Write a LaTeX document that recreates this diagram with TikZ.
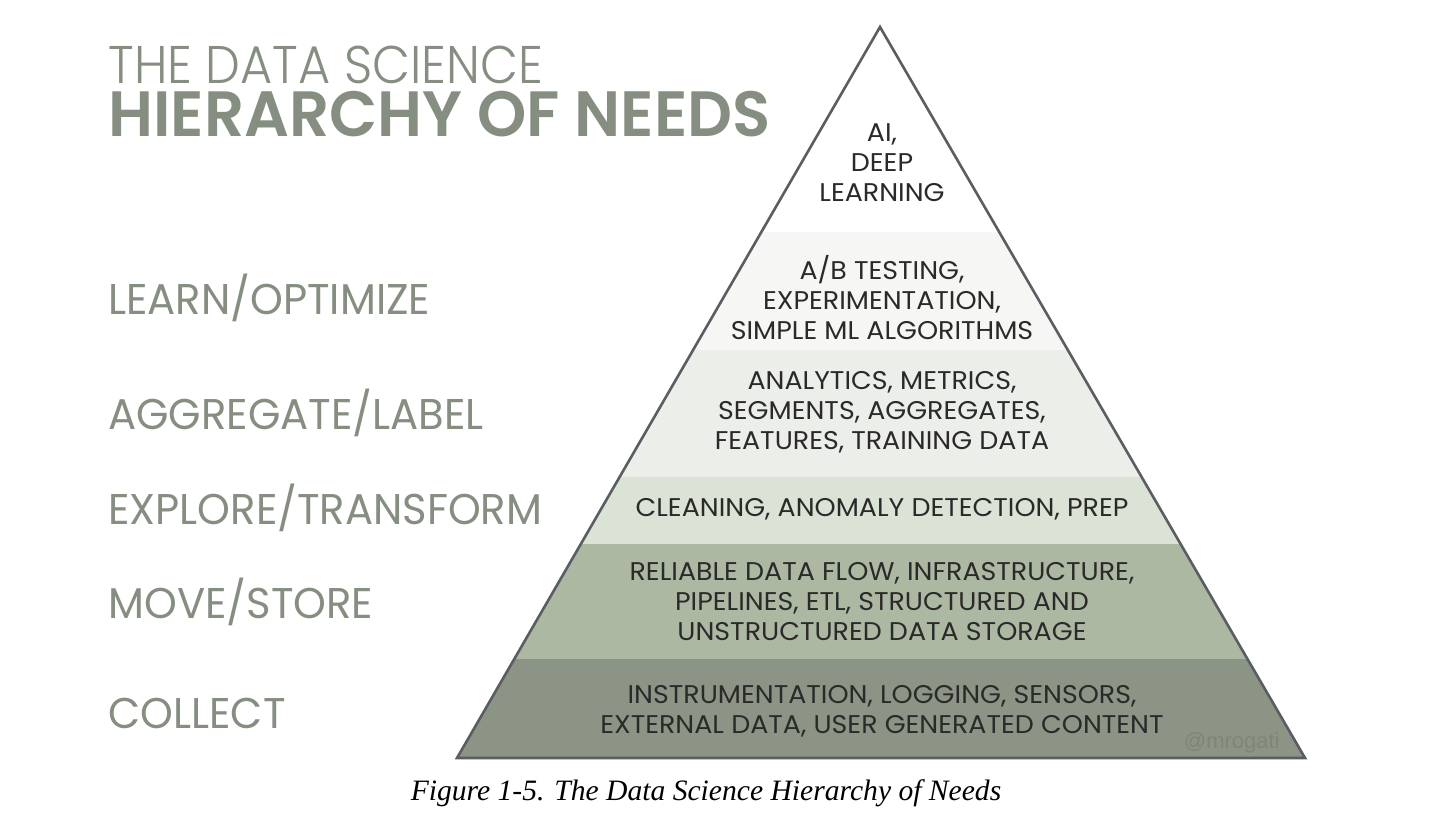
\documentclass[tikz,border=0pt]{standalone}
\usepackage{fontspec}
\setmainfont{Liberation Serif}
\newfontfamily\lblfont[FakeStretch=0.97]{Poppins}
\newfontfamily\ttlfont[FakeStretch=0.93]{Poppins Light}
\newfontfamily\ttlbold[FakeStretch=0.98]{Poppins SemiBold}
\newfontfamily\pyrfont[FakeStretch=1.05]{Poppins}
\newfontfamily\markfont{Liberation Sans}
\definecolor{ttlgray}{HTML}{858E80}
\definecolor{txtdark}{HTML}{2A2A2A}
\definecolor{bandA}{HTML}{FFFFFF}
\definecolor{bandB}{HTML}{F6F6F4}
\definecolor{bandC}{HTML}{ECEEEA}
\definecolor{bandD}{HTML}{DBE2D6}
\definecolor{bandE}{HTML}{ADB8A2}
\definecolor{bandF}{HTML}{8B9485}
\definecolor{edgegray}{HTML}{5A5E62}
\definecolor{markgray}{HTML}{7E8678}
\tikzset{
  lbl/.style={anchor=base west, inner sep=0pt, text=ttlgray, font=\lblfont\fontsize{21.5}{24}\selectfont},
  pyr/.style={anchor=center, inner sep=0pt, align=center, text=txtdark, font=\pyrfont\fontsize{12.8}{15}\selectfont},
}
\begin{document}
\begin{tikzpicture}[x=0.5pt,y=-0.5pt]
\useasboundingbox (0,0) rectangle (1444,822);
\fill[white] (0,0) rectangle (1444,822);
\coordinate (apex) at (880,27);
\coordinate (bl) at (457,758);
\coordinate (br) at (1305,758);
\begin{scope}
\clip (apex) -- (bl) -- (br) -- cycle;
\fill[bandA] (400,0) rectangle (1400,232);
\fill[bandB] (400,232) rectangle (1400,350);
\fill[bandC] (400,350) rectangle (1400,477);
\fill[bandD] (400,477) rectangle (1400,544);
\fill[bandE] (400,544) rectangle (1400,659);
\fill[bandF] (400,659) rectangle (1400,760);
\end{scope}
\draw[edgegray, line width=1.3pt, line join=miter] (apex) -- (bl) -- (br) -- cycle;
% titles
\node[anchor=base west, inner sep=0pt, text depth=0pt, text=ttlgray, font=\ttlfont\fontsize{26.5}{30}\selectfont] (t1) at (108,84) {THE DATA SCIENCE};
\node[anchor=base west, inner sep=0pt, text height=21pt, text=ttlgray, font=\ttlbold\fontsize{32}{36}\selectfont] (t2) at (108,137) {HIERARCHY OF NEEDS};
% left labels
\node[lbl] (l1) at (108,315) {LEARN/OPTIMIZE};
\node[lbl] (l2) at (108,430) {AGGREGATE/LABEL};
\node[lbl] (l3) at (108,525) {EXPLORE/TRANSFORM};
\node[lbl] (l4) at (108,618) {MOVE/STORE};
\node[lbl] (l5) at (108,728) {COLLECT};
% pyramid texts
\node[pyr] (p1) at (882,163) {AI,\\DEEP\\LEARNING};
\node[pyr] (p2) at (882,298) {A/B TESTING,\\EXPERIMENTATION,\\SIMPLE ML ALGORITHMS};
\node[pyr] (p3) at (882,412) {ANALYTICS, METRICS,\\SEGMENTS, AGGREGATES,\\FEATURES, TRAINING DATA};
\node[pyr] (p4) at (882,509) {CLEANING, ANOMALY DETECTION, PREP};
\node[pyr] (p5) at (882,602) {RELIABLE DATA FLOW, INFRASTRUCTURE,\\PIPELINES, ETL, STRUCTURED AND\\UNSTRUCTURED DATA STORAGE};
\node[pyr] (p6) at (882,711) {INSTRUMENTATION, LOGGING, SENSORS,\\EXTERNAL DATA, USER GENERATED CONTENT};
\node[anchor=base east, inner sep=0pt, text=markgray, font=\markfont\fontsize{11}{13}\selectfont] (mark) at (1280,748) {@mrogati};
% caption
\node[anchor=base, inner sep=0pt, font=\itshape\fontsize{14.8}{17}\selectfont] (cap) at (706,800) {Figure 1-5. The Data Science Hierarchy of Needs};
\end{tikzpicture}
\end{document}
